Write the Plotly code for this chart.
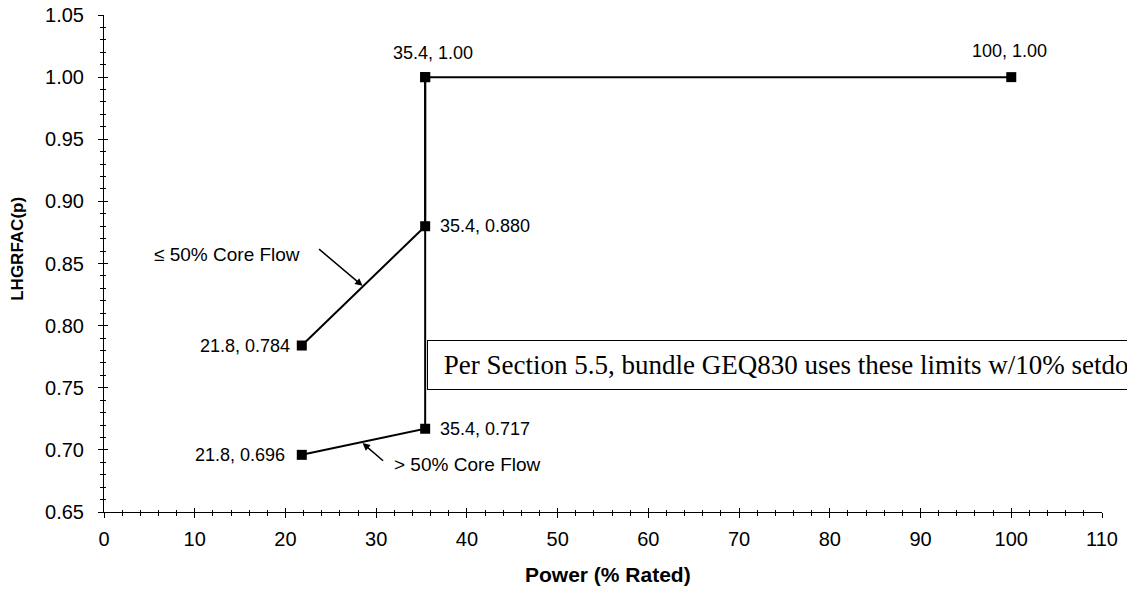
import plotly.graph_objects as go

# Data
low_flow_x = [21.8, 35.4, 35.4, 100]
low_flow_y = [0.784, 0.880, 1.00, 1.00]
high_flow_x = [21.8, 35.4, 35.4]
high_flow_y = [0.696, 0.717, 1.00]

# (x, y, text, position, xshift, yshift)
point_labels = [
    (35.4, 1.00, "35.4, 1.00", "above", 8, 24),
    (100, 1.00, "100, 1.00", "above", -2, 26),
    (35.4, 0.880, "35.4, 0.880", "right", 13, 0),
    (35.4, 0.717, "35.4, 0.717", "right", 13, 0),
    (21.8, 0.784, "21.8, 0.784", "left", -10, 0),
    (21.8, 0.696, "21.8, 0.696", "left", -15, 0),
]

x_range = [0, 110]
y_range = [0.65, 1.05]
x_ticks = [0, 10, 20, 30, 40, 50, 60, 70, 80, 90, 100, 110]
y_ticks = [0.65, 0.70, 0.75, 0.80, 0.85, 0.90, 0.95, 1.00, 1.05]

fig = go.Figure()
line_style = dict(color="black", width=2)
marker_style = dict(symbol="square", size=10, color="black")
fig.add_trace(go.Scatter(x=low_flow_x, y=low_flow_y, mode="lines+markers",
                         line=line_style, marker=marker_style, showlegend=False))
fig.add_trace(go.Scatter(x=high_flow_x, y=high_flow_y, mode="lines+markers",
                         line=line_style, marker=marker_style, showlegend=False))

annotations = []
lab_font = dict(family="Liberation Sans, Arial", size=18, color="black")
call_font = dict(family="Liberation Sans, Arial", size=19, color="black")
for x, y, t, pos, dx, dy in point_labels:
    if pos == "above":
        annotations.append(dict(x=x, y=y, text=t, showarrow=False, xanchor="center",
                                yanchor="middle", yshift=dy, xshift=dx, font=lab_font))
    elif pos == "right":
        annotations.append(dict(x=x, y=y, text=t, showarrow=False, xanchor="left",
                                yanchor="middle", xshift=dx, font=lab_font))
    else:
        annotations.append(dict(x=x, y=y, text=t, showarrow=False, xanchor="right",
                                yanchor="middle", xshift=dx, font=lab_font))

# Arrow callouts
annotations.append(dict(x=28.5, y=0.832, ax=-45, ay=-38, showarrow=True, arrowhead=2,
                        arrowsize=1, arrowwidth=1.5, arrowcolor="black", text=""))
annotations.append(dict(x=5.3, y=0.857, text="≤ 50% Core Flow", showarrow=False,
                        xanchor="left", yanchor="middle", font=call_font))
annotations.append(dict(x=28.5, y=0.7055, ax=22, ay=19, showarrow=True, arrowhead=2,
                        arrowsize=1, arrowwidth=1.5, arrowcolor="black", text=""))
annotations.append(dict(x=31.7, y=0.688, text="> 50% Core Flow", showarrow=False,
                        xanchor="left", yanchor="middle", font=call_font))

# Text box
annotations.append(dict(x=35.55, y=0.768,
                        text="&nbsp;Per Section 5.5, bundle GEQ830 uses these limits w/10% setdown",
                        showarrow=False, xanchor="left", yanchor="middle",
                        font=dict(family="Liberation Serif, Times New Roman", size=27, color="black"),
                        bordercolor="black", borderwidth=1, borderpad=9, bgcolor="white"))

# Axis titles as annotations for precise placement
annotations.append(dict(xref="paper", yref="paper", x=0.505, y=-0.126, yanchor="middle",
                        text="<b>Power (% Rated)</b>", showarrow=False,
                        font=dict(family="Liberation Sans, Arial", size=21, color="black")))
annotations.append(dict(xref="paper", yref="paper", x=-0.087, y=0.53, xanchor="center",
                        yanchor="middle", textangle=-90,
                        text="<b>LHGRFAC(p)</b>", showarrow=False,
                        font=dict(family="Liberation Sans, Arial", size=17, color="black")))

fig.update_layout(
    width=1127, height=593,
    margin=dict(l=104, r=25, t=15, b=81),
    paper_bgcolor="white", plot_bgcolor="white",
    font=dict(family="Liberation Sans, Arial", color="black"),
    annotations=annotations,
    xaxis=dict(range=x_range, tickvals=x_ticks, showgrid=False, zeroline=False,
               showline=True, linecolor="black", linewidth=1, automargin=False,
               ticks="outside", ticklen=5, tickcolor="black", ticklabelstandoff=4,
               minor=dict(dtick=2, ticks="outside", ticklen=3, tickcolor="black"),
               tickfont=dict(size=20)),
    yaxis=dict(range=y_range, tickvals=y_ticks, tickformat=".2f", showgrid=False, zeroline=False,
               showline=True, linecolor="black", linewidth=1, automargin=False,
               ticks="outside", ticklen=5, tickcolor="black", ticklabelstandoff=10,
               minor=dict(dtick=0.01, ticks="outside", ticklen=3, tickcolor="black"),
               tickfont=dict(size=20)),
    xaxis2=dict(overlaying="x", range=x_range, tickvals=x_ticks, showticklabels=False,
                showgrid=False, zeroline=False, showline=False, ticks="inside", ticklen=4,
                tickcolor="black", side="bottom", anchor="y", automargin=False,
                minor=dict(dtick=2, ticks="inside", ticklen=2, tickcolor="black")),
    yaxis2=dict(overlaying="y", range=y_range, tickvals=y_ticks, showticklabels=False,
                showgrid=False, zeroline=False, showline=False, ticks="inside", ticklen=4,
                tickcolor="black", side="left", anchor="x", automargin=False,
                minor=dict(dtick=0.01, ticks="inside", ticklen=2, tickcolor="black")),
)
fig.add_trace(go.Scatter(x=[None], y=[None], xaxis="x2", yaxis="y2", showlegend=False,
                         hoverinfo="skip"))

fig.write_html("out.html", config={"displayModeBar": False},
               post_script="document.body.style.margin='0';document.body.style.overflow='hidden';")
